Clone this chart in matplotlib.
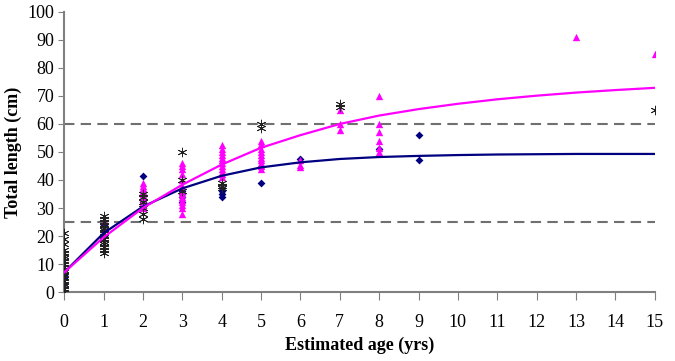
import matplotlib
matplotlib.use("Agg")
import matplotlib.pyplot as plt

# black asterisks
ast_age = [0]*19 + [1]*14 + [2]*6 + [3]*3 + [4]*3 + [5]*2 + [7]*2 + [15]
ast_len = [0, 1, 2, 3, 4, 5, 6, 7, 8, 9, 10, 11, 12, 13, 14, 15, 17, 19, 21,
           14, 15, 16, 17, 18, 19, 20, 21, 22, 23, 24, 25, 26, 27,
           26, 28, 30, 32, 34, 35,
           36, 40, 50,
           37, 38, 39,
           58.5, 60,
           66, 67,
           65]

# navy diamonds
dia_age = [0]*4 + [1]*3 + [2]*3 + [3]*4 + [4]*4 + [5]*2 + [6, 8, 9, 9]
dia_len = [3, 5, 6, 8,
           20, 22, 24,
           30, 32, 41.5,
           32, 34, 35, 36,
           34, 35, 36, 37,
           39, 44.5,
           47.5, 51, 56, 47]

# magenta triangles
tri_age = [1] + [2]*10 + [3]*14 + [4]*12 + [5]*10 + [6]*3 + [7]*3 + [8]*6 + [13, 15]
tri_len = [25.5,
           30, 31, 32, 33, 34, 35, 36, 37, 38, 39,
           28, 30, 31, 32, 33, 34, 35, 36, 38, 40, 42, 44, 45, 46,
           41, 42, 43, 44, 45, 46, 47, 48, 49, 50, 51, 52.5,
           44, 45, 46, 47, 48, 49, 50, 51, 53, 54,
           44.5, 45.5, 47,
           58, 60, 65,
           50, 51.5, 54, 57, 60, 70,
           91, 85]

# fitted growth curves (read at integer ages)
curve_age = list(range(16))
curve_blue = [7, 21, 30.5, 37, 41.5, 44.5, 46.3, 47.5, 48.2, 48.6, 48.9, 49.1, 49.2, 49.3, 49.3, 49.3]
curve_pink = [7, 19.5, 30, 38.3, 45.5, 51.5, 56, 60, 63, 65.3, 67.2, 68.8, 70.1, 71.2, 72.1, 72.9]

ref_lines = [25, 60]

plt.rcParams['font.family'] = ['Liberation Serif', 'DejaVu Serif']

fig = plt.figure(figsize=(6.75, 3.61), dpi=100)
ax = fig.add_axes([0.095, 0.191, 0.875, 0.776])

for y in ref_lines:
    ax.axhline(y, color='#707070', lw=1.5, ls=(0, (5, 3)), zorder=1)

ax.scatter(dia_age, dia_len, marker='D', s=16, color='#000080', zorder=3, linewidths=0)
ax.scatter(tri_age, tri_len, marker='^', s=28, color='#ff00ff', zorder=3, linewidths=0)
ax.scatter(ast_age, ast_len, marker=(6, 2, 0), s=40, color='#222222', zorder=4, linewidths=0.6)

ax.plot(curve_age, curve_blue, color='#000080', lw=1.6, zorder=5)
ax.plot(curve_age, curve_pink, color='#ff00ff', lw=1.6, zorder=5)

ax.set_xlim(0, 15)
ax.set_ylim(0, 100)
ax.set_xticks(range(16))
ax.set_yticks(range(0, 101, 10))
ax.tick_params(axis='x', direction='out', length=6, pad=10, labelsize=13, color='#808080')
ax.tick_params(axis='y', direction='out', length=4, pad=3, labelsize=13, color='#808080')

for s in ['top', 'right']:
    ax.spines[s].set_visible(False)
for s in ['left', 'bottom']:
    ax.spines[s].set_color('#808080')
    ax.spines[s].set_linewidth(1.5)
    ax.spines[s].set_clip_on(False)

ax.set_xlabel('Estimated age (yrs)', fontweight='bold', fontsize=13, labelpad=4)
ax.set_ylabel('Total length (cm)', fontweight='bold', fontsize=13, labelpad=4)

fig.savefig('out.png', dpi=100)
